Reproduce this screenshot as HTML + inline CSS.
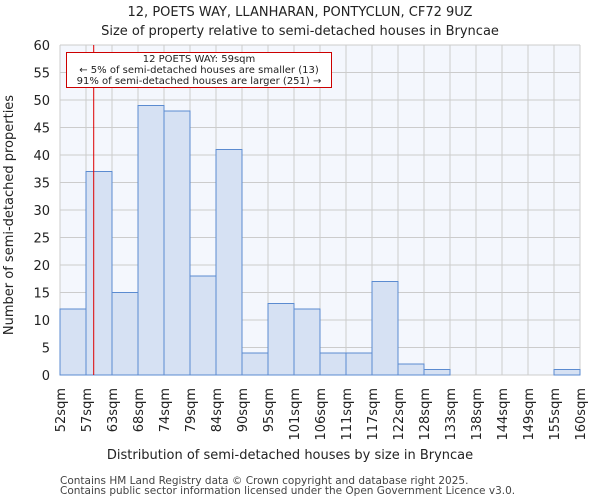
<!DOCTYPE html>
<html><head><meta charset="utf-8"><style>
body{margin:0;background:#fff;font-family:"DejaVu Sans","Liberation Sans",sans-serif}
</style></head><body>
<svg width="600" height="500" xmlns="http://www.w3.org/2000/svg" font-family="DejaVu Sans, Liberation Sans, sans-serif">
<g id="root"></g>
</svg>
<script>
const categories=["52sqm","57sqm","63sqm","68sqm","74sqm","79sqm","84sqm","90sqm","95sqm","101sqm","106sqm","111sqm","117sqm","122sqm","128sqm","133sqm","138sqm","144sqm","149sqm","155sqm","160sqm"];
const counts=[12,37,15,49,48,18,41,4,13,12,4,4,17,2,1,0,0,0,0,1];
const yTicks=[0,5,10,15,20,25,30,35,40,45,50,55,60];
const markerValue=59;
const binStart=52, binEnd=160;
const NS="http://www.w3.org/2000/svg";
const root=document.getElementById('root');
const X0=60,X1=580,Y0=375,Y1=45,YMAX=60;
const n=counts.length;
const bw=(X1-X0)/n;
function xi(i){return X0+i*bw;}
function y(v){return Y0-(v/YMAX)*(Y0-Y1);}
function xv(v){return X0+(v-binStart)/(binEnd-binStart)*(X1-X0);}
function mk(tag,attrs,parent){const e=document.createElementNS(NS,tag);for(const k in attrs)e.setAttribute(k,attrs[k]);(parent||root).appendChild(e);return e;}
const bg=mk('rect',{x:X0,y:Y1,width:X1-X0,height:Y0-Y1,fill:'#f4f7fd'});


for(let i=0;i<=n;i++){const l=mk('line',{x1:xi(i),x2:xi(i),y1:Y1,y2:Y0,stroke:'#cccccc','stroke-width':1});

}
yTicks.forEach(t=>{const l=mk('line',{x1:X0,x2:X1,y1:y(t),y2:y(t),stroke:'#cccccc','stroke-width':1});


const tx=mk('text',{x:50,y:y(t)+5,'text-anchor':'end','font-size':13,fill:'#222'});tx.textContent=t;

});
counts.forEach((c,i)=>{if(c<=0)return;const r=mk('rect',{x:xi(i),y:y(c),width:bw,height:Y0-y(c),fill:'#d6e1f3',stroke:'#5b8bd0','stroke-width':1});

});
categories.forEach((c,i)=>{const tx=mk('text',{transform:`translate(${xi(i)+5},388) rotate(-90)`,'text-anchor':'end','font-size':13,fill:'#222'});tx.textContent=c;

});
const ml=mk('line',{x1:xv(markerValue),x2:xv(markerValue),y1:Y1,y2:Y0,stroke:'#dd0000','stroke-width':1});


</script>
<svg width="600" height="500" style="position:absolute;left:0;top:0" xmlns="http://www.w3.org/2000/svg" font-family="DejaVu Sans, Liberation Sans, sans-serif">
<g>
<rect x="66.5" y="52.5" width="265" height="35" fill="#fff" stroke="#cc0000" stroke-width="1"/>
<text x="199" y="62" text-anchor="middle" font-size="10" fill="#222">12 POETS WAY: 59sqm</text>
<text x="199" y="73" text-anchor="middle" font-size="10" fill="#222">← 5% of semi-detached houses are smaller (13)</text>
<text x="199" y="84" text-anchor="middle" font-size="10" fill="#222">91% of semi-detached houses are larger (251) →</text>
</g>
<text x="300" y="16" text-anchor="middle" font-size="13" fill="#222">12, POETS WAY, LLANHARAN, PONTYCLUN, CF72 9UZ</text>
<text x="300" y="35" text-anchor="middle" font-size="13" fill="#222">Size of property relative to semi-detached houses in Bryncae</text>
<text x="290" y="459" text-anchor="middle" font-size="13" fill="#222">Distribution of semi-detached houses by size in Bryncae</text>
<text transform="translate(13,215) rotate(-90)" text-anchor="middle" font-size="13" fill="#222">Number of semi-detached properties</text>
<text x="60" y="484" font-size="10.5" fill="#444">Contains HM Land Registry data © Crown copyright and database right 2025.</text>
<text x="60" y="494" font-size="10.5" fill="#444">Contains public sector information licensed under the Open Government Licence v3.0.</text>
</svg>
</body></html>
